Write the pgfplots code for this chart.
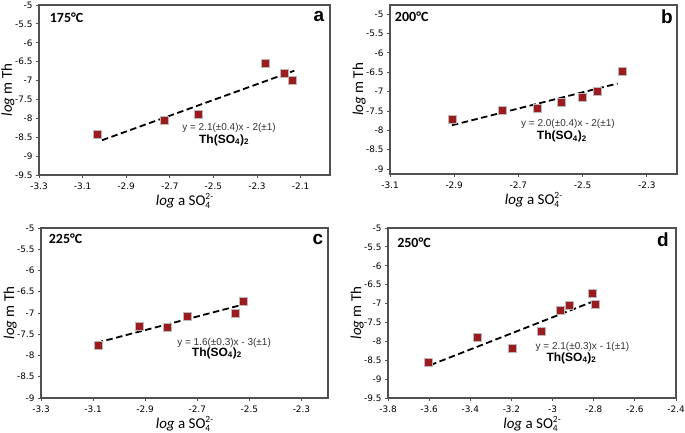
\documentclass[border=0pt]{standalone}
\usepackage{pgfplots}
\pgfplotsset{compat=1.18}
\usepackage{fontspec}
\setmainfont{Carlito}
\newfontfamily\arial{Liberation Sans}
\newfontfamily\dejavu{DejaVu Sans}
\definecolor{pt}{HTML}{9B1B1E}
\definecolor{ax}{HTML}{505050}
\newcommand{\sulf}{SO\raisebox{-3pt}{\fontsize{9.5}{9.5}\selectfont\begin{tabular}[b]{@{}l@{}}2-\\4\end{tabular}}}
\pgfplotsset{
  panel/.style={
    scale only axis,
    anchor=south west,
    axis line style={ax, line width=1.2pt},
    tick style={ax, line width=0.9pt},
    major tick length=3pt,
    tick align=outside,
    tick pos=left,
    xticklabel style={font=\dejavu\fontsize{8.9}{9}\selectfont, yshift=-1pt},
    yticklabel style={font=\dejavu\fontsize{8.9}{9}\selectfont},
    xlabel={\textit{log} a \sulf},
    ylabel={\textit{log} m Th},
    xlabel style={font=\fontsize{15}{17}\selectfont, at={(axis description cs:0.5,-0.16)}, anchor=center},
    ylabel style={font=\fontsize{15}{17}\selectfont, at={(axis description cs:-0.107,0.5)}, anchor=center},
    clip=false,
  },
  pts/.style={only marks, mark=square*, mark size=4pt, mark options={fill=pt, draw=gray!55, line width=0.9pt}},
  fit/.style={no marks, black, line width=1.8pt, dash pattern=on 6.5pt off 3.5pt},
}
\newcommand{\temp}[3]{\node[anchor=west, font=\bfseries\fontsize{14}{16}\selectfont] at (rel axis cs:#1,#2) {#3};}
\newcommand{\letter}[3]{\node[anchor=center, font=\arial\bfseries\fontsize{19}{20}\selectfont] at (rel axis cs:#1,#2) {#3};}
\newcommand{\eqn}[5]{\node[anchor=center, font=\arial\fontsize{10}{11}\selectfont, text=black!80] at (rel axis cs:#1,#2) {#5};
  \node[anchor=center, font=\arial\bfseries\fontsize{12}{13}\selectfont] at (rel axis cs:#3,#4) {Th(SO\textsubscript{4})\textsubscript{2}};}
\begin{document}
\begin{tikzpicture}[x=1pt,y=1pt]
\useasboundingbox (0,0) rectangle (685,433);
% panel a
\begin{axis}[panel, at={(39pt,258pt)}, width=291pt, height=170pt,
  xmin=-3.3, xmax=-1.965, ymin=-9.5, ymax=-5,
  xtick={-3.3,-3.1,-2.9,-2.7,-2.5,-2.3,-2.1}, xticklabels={-3.3,-3.1,-2.9,-2.7,-2.5,-2.3,-2.1},
  ytick={-9.5,-9,-8.5,-8,-7.5,-7,-6.5,-6,-5.5,-5}, yticklabels={-9.5,-9,-8.5,-8,-7.5,-7,-6.5,-6,-5.5,-5}]
\addplot[fit] coordinates {(-3.011,-8.58) (-2.129,-6.74)};
\addplot[pts] coordinates {(-3.03,-8.42) (-2.726,-8.06) (-2.568,-7.90) (-2.262,-6.56) (-2.172,-6.80) (-2.138,-7.00)};
\temp{0.025}{0.924}{175\textdegree C}
\letter{0.962}{0.93}{a}
\eqn{0.653}{0.276}{0.636}{0.206}{y = 2.1(±0.4)x - 2(±1)}
\end{axis}
% panel b
\begin{axis}[panel, at={(390pt,259pt)}, width=287pt, height=169pt,
  xmin=-3.1, xmax=-2.206, ymin=-9.13, ymax=-4.76,
  xtick={-3.1,-2.9,-2.7,-2.5,-2.3}, xticklabels={-3.1,-2.9,-2.7,-2.5,-2.3},
  ytick={-9,-8.5,-8,-7.5,-7,-6.5,-6,-5.5,-5}, yticklabels={-9,-8.5,-8,-7.5,-7,-6.5,-6,-5.5,-5}]
\addplot[fit] coordinates {(-2.907,-7.87) (-2.391,-6.79)};
\addplot[pts] coordinates {(-2.907,-7.72) (-2.750,-7.49) (-2.641,-7.44) (-2.566,-7.27) (-2.502,-7.16) (-2.453,-7.00) (-2.375,-6.48)};
\temp{0.005}{0.933}{200\textdegree C}
\letter{0.965}{0.93}{b}
\eqn{0.62}{0.294}{0.599}{0.223}{y = 2.0(±0.4)x - 2(±1)}
\end{axis}
% panel c
\begin{axis}[panel, at={(41pt,35pt)}, width=287pt, height=170pt,
  xmin=-3.3, xmax=-2.198, ymin=-9, ymax=-5,
  xtick={-3.3,-3.1,-2.9,-2.7,-2.5,-2.3}, xticklabels={-3.3,-3.1,-2.9,-2.7,-2.5,-2.3},
  ytick={-9,-8.5,-8,-7.5,-7,-6.5,-6,-5.5,-5}, yticklabels={-9,-8.5,-8,-7.5,-7,-6.5,-6,-5.5,-5}]
\addplot[fit] coordinates {(-3.086,-7.70) (-2.536,-6.82)};
\addplot[pts] coordinates {(-3.08,-7.77) (-2.923,-7.31) (-2.815,-7.35) (-2.738,-7.08) (-2.553,-7.01) (-2.521,-6.73)};
\temp{0.015}{0.935}{225\textdegree C}
\letter{0.965}{0.93}{c}
\eqn{0.638}{0.324}{0.613}{0.265}{y = 1.6(±0.3)x - 3(±1)}
\end{axis}
% panel d
\begin{axis}[panel, at={(388pt,35pt)}, width=288pt, height=170pt,
  xmin=-3.8, xmax=-2.4, ymin=-9.5, ymax=-5,
  xtick={-3.8,-3.6,-3.4,-3.2,-3,-2.8,-2.6,-2.4}, xticklabels={-3.8,-3.6,-3.4,-3.2,-3,-2.8,-2.6,-2.4},
  ytick={-9.5,-9,-8.5,-8,-7.5,-7,-6.5,-6,-5.5,-5}, yticklabels={-9.5,-9,-8.5,-8,-7.5,-7,-6.5,-6,-5.5,-5}]
\addplot[fit] coordinates {(-3.595,-8.63) (-2.796,-6.93)};
\addplot[pts] coordinates {(-3.603,-8.55) (-3.364,-7.89) (-3.193,-8.19) (-3.053,-7.74) (-2.964,-7.17) (-2.916,-7.05) (-2.804,-6.73) (-2.791,-7.02)};
\temp{0.02}{0.912}{250\textdegree C}
\letter{0.955}{0.93}{d}
\eqn{0.675}{0.30}{0.637}{0.235}{y = 2.1(±0.3)x - 1(±1)}
\end{axis}
\end{tikzpicture}
\end{document}
